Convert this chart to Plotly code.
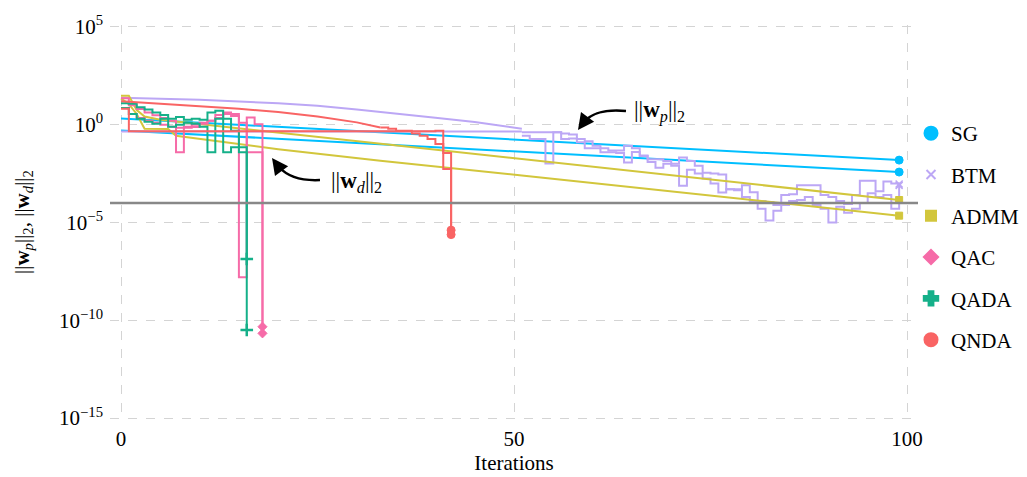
import numpy as np
import plotly.graph_objects as go

# ---------------- data: log10 of the norms ----------------
SG_IT = [0, 20, 40, 60, 80, 99]
SG_P = [0.32, -0.11, -0.53, -0.96, -1.38, -1.81]
SG_D = [-0.29, -0.72, -1.14, -1.57, -1.99, -2.42]

BTM_P_SMOOTH_IT = [0, 10, 20, 25, 30, 35, 40, 45, 50, 51]
BTM_P_SMOOTH = [1.38, 1.28, 1.1, 0.97, 0.78, 0.58, 0.36, 0.14, -0.12, -0.2]
BTM_D_FLAT_IT = [0, 51]
BTM_D_FLAT = [-0.35, -0.35]
BTM_TAIL_IT = list(range(51, 100))
BTM_P_TAIL = [-0.39, -0.39, -0.39, -0.39, -0.39, -0.45, -0.5, -0.73, -0.85, -1.07,
              -1.2, -1.32, -1.32, -1.07, -1.2, -1.58, -1.76, -1.76, -1.85, -2.0,
              -1.68, -1.85, -2.1, -2.45, -2.5, -2.55, -3.3, -3.3, -3.1, -3.45,
              -3.9, -3.95, -4.1, -3.6, -3.55, -3.1, -3.1, -3.1, -3.6, -3.7,
              -3.9, -4.05, -3.6, -2.86, -2.86, -3.4, -2.9, -3.0, -3.03]
BTM_D_TAIL = [-0.56, -0.73, -0.73, -1.98, -0.39, -0.73, -0.7, -0.9, -1.2, -1.2,
              -1.41, -1.41, -1.45, -1.93, -1.4, -1.6, -1.9, -2.2, -2.0, -2.1,
              -3.12, -2.3, -2.5, -2.75, -3.0, -3.46, -3.3, -3.35, -3.7, -3.9,
              -4.3, -4.9, -4.4, -4.1, -3.9, -3.85, -3.7, -4.1, -4.3, -5.0,
              -4.2, -4.5, -4.3, -4.0, -3.5, -3.7, -3.6, -4.3, -3.1]

ADMM_P_IT = [0, 1, 2, 3, 5, 10, 20, 33, 51, 76, 99]
ADMM_P = [1.48, 1.48, 0.75, 0.42, 0.25, 0.03, -0.41, -0.98, -1.75, -2.86, -3.85]
ADMM_D_IT = [0, 1, 2, 3, 6, 7, 20, 33, 51, 76, 99]
ADMM_D = [1.35, 1.05, 0.55, -0.2, -0.22, -0.56, -1.25, -1.84, -2.6, -3.65, -4.65]

QAC_IT = list(range(0, 19))
QAC_P = [1.35, 1.0, 0.8, 0.62, 0.48, 0.35, 0.2, -1.41, -0.15, -0.12,
         0.05, 0.2, 0.5, 0.62, 0.45, -7.8, 0.37, 0.03, -10.33]
QAC_D = [0.85, 0.55, 0.35, 0.2, 0.1, 0.0, -0.1, -0.15, -0.1, 0.0,
         0.1, 0.2, 0.35, 0.55, 0.55, 0.1, -1.41, -1.41, -10.67]

QADA_IT = list(range(0, 17))
QADA_P = [1.1, 1.07, 0.9, 0.78, 0.62, 0.5, 0.3, 0.4, 0.25, 0.3,
          0.25, 0.63, 0.72, 0.3, -0.31, -1.15, -6.87]
QADA_D = [0.85, 0.55, 0.3, 0.15, 0.05, 0.3, -0.1, 0.0, 0.1, 0.05,
          -0.1, -1.41, 0.3, -1.41, -1.15, -1.41, -10.5]

QNDA_P_SMOOTH_IT = [0, 5, 10, 15, 20, 25, 30, 33]
QNDA_P_SMOOTH = [1.2, 1.08, 0.95, 0.82, 0.65, 0.42, 0.12, -0.14]
QNDA_P_TAIL_IT = list(range(33, 43))
QNDA_P_TAIL = [-0.14, -0.2, -0.31, -0.31, -0.45, -0.56, -0.73, -0.99, -1.45, -5.39]
QNDA_D_IT = [0, 1, 40, 41, 42]
QNDA_D = [0.82, -0.33, -0.31, -2.27, -5.62]

TOL = 1e-4
ALGOS = ["SG", "BTM", "ADMM", "QAC", "QADA", "QNDA"]
Y_TICKS = [1e-15, 1e-10, 1e-5, 1e0, 1e5]
Y_TICKTEXT = ["10<sup>−15</sup>", "10<sup>−10</sup>", "10<sup>−5</sup>", "10<sup>0</sup>", "10<sup>5</sup>"]
X_TICKS = [0, 50, 100]
WP_LABEL = "||<b>w</b><sub><i>p</i></sub>||<sub>2</sub>"
WD_LABEL = "||<b>w</b><sub><i>d</i></sub>||<sub>2</sub>"

# ---------------- styling ----------------
COL = {"SG": "#00BFFF", "BTM": "#BCA7F5", "ADMM": "#D2C63C",
       "QAC": "#F66BA8", "QADA": "#15B089", "QNDA": "#F96464"}
SYM = {"SG": "circle", "BTM": "x-thin", "ADMM": "square",
       "QAC": "diamond", "QADA": "cross", "QNDA": "circle"}
END_SYM = dict(SYM, QADA="cross-thin")
FONT = "Liberation Serif, Times New Roman, serif"
FS = 21

fig = go.Figure()


def line(x, logv, algo, shape):
    fig.add_trace(go.Scatter(
        x=x, y=10 ** np.array(logv, dtype=float), mode="lines",
        line=dict(color=COL[algo], width=2, shape=shape),
        showlegend=False, hoverinfo="skip"))


line(SG_IT, SG_P, "SG", "linear")
line(SG_IT, SG_D, "SG", "linear")
line(BTM_P_SMOOTH_IT, BTM_P_SMOOTH, "BTM", "linear")
line(BTM_D_FLAT_IT, BTM_D_FLAT, "BTM", "linear")
line(BTM_TAIL_IT, BTM_P_TAIL, "BTM", "hv")
line(BTM_TAIL_IT, BTM_D_TAIL, "BTM", "hv")
line(ADMM_P_IT, ADMM_P, "ADMM", "linear")
line(ADMM_D_IT, ADMM_D, "ADMM", "linear")
line(QAC_IT, QAC_P, "QAC", "hv")
line(QAC_IT, QAC_D, "QAC", "hv")
line(QADA_IT, QADA_P, "QADA", "hv")
line(QADA_IT, QADA_D, "QADA", "hv")
line(QNDA_P_SMOOTH_IT, QNDA_P_SMOOTH, "QNDA", "linear")
line(QNDA_P_TAIL_IT, QNDA_P_TAIL, "QNDA", "hv")
line(QNDA_D_IT, QNDA_D, "QNDA", "hv")

# end-point markers
ENDS = {
    "SG": [(SG_IT[-1], SG_P[-1]), (SG_IT[-1], SG_D[-1])],
    "BTM": [(BTM_TAIL_IT[-1], BTM_P_TAIL[-1]), (BTM_TAIL_IT[-1], BTM_D_TAIL[-1])],
    "ADMM": [(ADMM_P_IT[-1], ADMM_P[-1]), (ADMM_D_IT[-1], ADMM_D[-1])],
    "QAC": [(QAC_IT[-1], QAC_P[-1]), (QAC_IT[-1], QAC_D[-1])],
    "QADA": [(QADA_IT[-1], QADA_P[-1]), (QADA_IT[-1], QADA_D[-1])],
    "QNDA": [(QNDA_P_TAIL_IT[-1], QNDA_P_TAIL[-1]), (QNDA_D_IT[-1], QNDA_D[-1])],
}
MSIZE = {"SG": 8, "BTM": 7, "ADMM": 7, "QAC": 7, "QADA": 9, "QNDA": 8}
MLW = {"SG": 1, "BTM": 1.5, "ADMM": 1, "QAC": 1, "QADA": 2.5, "QNDA": 1}
LSIZE = {"SG": 13, "BTM": 9, "ADMM": 10, "QAC": 11, "QADA": 12, "QNDA": 13}
for a in ALGOS:
    xs = [p[0] for p in ENDS[a]]
    ys = [10 ** p[1] for p in ENDS[a]]
    fig.add_trace(go.Scatter(
        x=xs, y=ys, mode="markers", showlegend=False, hoverinfo="skip",
        marker=dict(symbol=END_SYM[a], size=MSIZE[a], color=COL[a],
                    line=dict(color=COL[a], width=MLW[a]))))

# threshold line
fig.add_trace(go.Scatter(x=[-1.4, 101.4], y=[TOL, TOL], mode="lines",
                         line=dict(color="#888888", width=2.5),
                         showlegend=False, hoverinfo="skip"))

# legend entries
for a in ALGOS:
    fig.add_trace(go.Scatter(
        x=[None], y=[None], mode="markers", name=a, legendgroup=a,
        marker=dict(symbol=SYM[a], size=LSIZE[a], color=COL[a],
                    line=dict(color=COL[a], width=2))))

# ---------------- layout ----------------
W, H = 1027, 477
PL, PR, PT, PB = 110, 918, 25, 420


def pp(px, py):
    return (px - PL) / (PR - PL), (PB - py) / (PB - PT)


def path(points):
    (x0, y0), (x1, y1), (x2, y2), (x3, y3) = [pp(*p) for p in points]
    return f"M {x0},{y0} C {x1},{y1} {x2},{y2} {x3},{y3}"


shapes = [
    dict(type="path", xref="paper", yref="paper",
         path=path([(626, 111), (604, 109), (592, 113), (584, 122)]),
         line=dict(color="black", width=2.5)),
    dict(type="path", xref="paper", yref="paper",
         path=path([(320, 180), (300, 181), (287, 176), (279, 167)]),
         line=dict(color="black", width=2.5)),
]

annotations = []
tx, ty = pp(578, 130)
annotations.append(dict(x=tx, y=ty, xref="paper", yref="paper", text="",
                        showarrow=True, arrowhead=2, arrowsize=1.3, arrowwidth=2.5,
                        arrowcolor="black", ax=8, ay=-11))
tx, ty = pp(272, 158)
annotations.append(dict(x=tx, y=ty, xref="paper", yref="paper", text="",
                        showarrow=True, arrowhead=2, arrowsize=1.3, arrowwidth=2.5,
                        arrowcolor="black", ax=8, ay=11))
lx, ly = pp(659, 112)
annotations.append(dict(x=lx, y=ly, xref="paper", yref="paper", showarrow=False,
                        xanchor="center", yanchor="middle",
                        text=WP_LABEL, font=dict(family=FONT, size=23, color="black")))
lx, ly = pp(356, 182)
annotations.append(dict(x=lx, y=ly, xref="paper", yref="paper", showarrow=False,
                        xanchor="center", yanchor="middle",
                        text=WD_LABEL, font=dict(family=FONT, size=23, color="black")))
# y-axis title
lx, ly = pp(23, 222)
annotations.append(dict(x=lx, y=ly, xref="paper", yref="paper", showarrow=False,
                        textangle=-90, xanchor="center", yanchor="middle",
                        text=WP_LABEL + ", " + WD_LABEL,
                        font=dict(family=FONT, size=FS, color="black")))

GRID = "#d4d4d4"
lgx, lgy = pp(911, 113)
fig.update_layout(
    width=W, height=H,
    margin=dict(l=PL, r=W - PR, t=PT, b=H - PB, pad=0, autoexpand=False),
    paper_bgcolor="white", plot_bgcolor="white",
    font=dict(family=FONT, size=FS, color="black"),
    shapes=shapes, annotations=annotations,
    legend=dict(x=lgx, xanchor="left", y=lgy, yanchor="top",
                font=dict(family=FONT, size=FS), tracegroupgap=11,
                bgcolor="rgba(0,0,0,0)", itemwidth=30),
    xaxis=dict(range=[-1.4, 101.4], tickvals=X_TICKS, showgrid=True,
               gridcolor=GRID, griddash="dash", gridwidth=1, zeroline=False,
               showline=False, ticks="", automargin=False, ticklabelstandoff=4,
               title=dict(text="Iterations", font=dict(family=FONT, size=FS), standoff=4)),
    yaxis=dict(type="log", range=[-15.1, 5.1], tickvals=Y_TICKS, ticktext=Y_TICKTEXT,
               showgrid=True, gridcolor=GRID, griddash="dash", gridwidth=1,
               zeroline=False, showline=False, ticks="", automargin=False,
               ticklabelstandoff=6),
)

fig.write_html("out.html")
